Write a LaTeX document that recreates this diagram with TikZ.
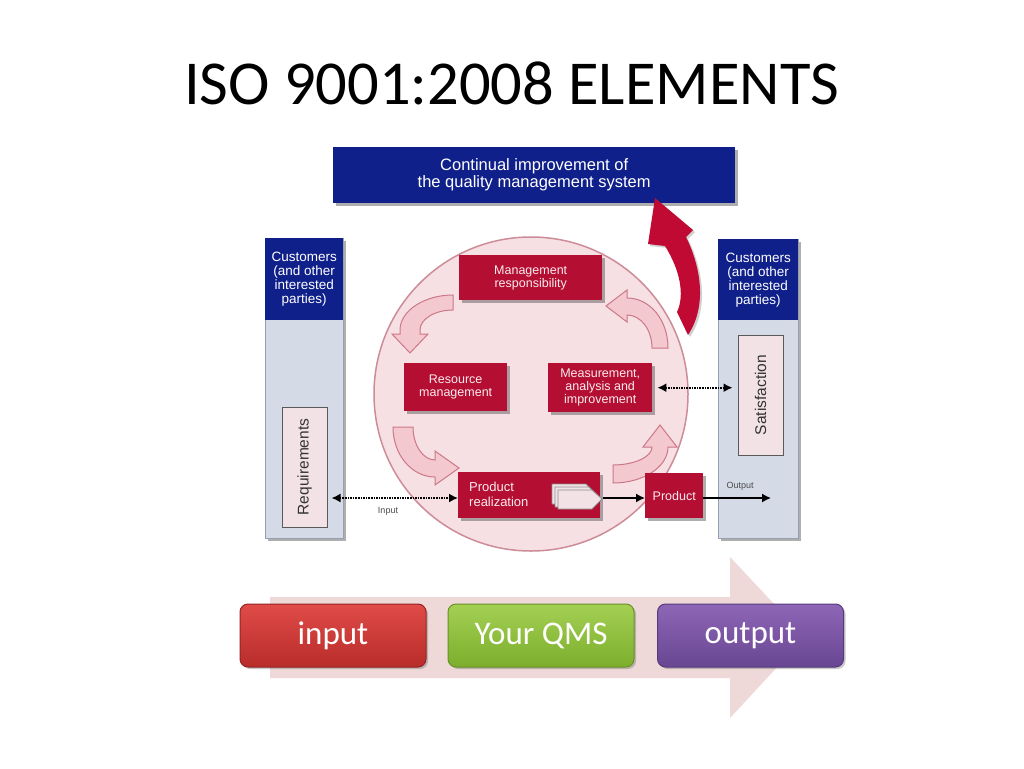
\documentclass[tikz,border=0pt]{standalone}
\usepackage{fontspec}
\setmainfont{Carlito}
\newfontfamily\arial{Liberation Sans}
\usetikzlibrary{arrows.meta,shadows}
\definecolor{qblue}{RGB}{16,32,138}
\definecolor{qred}{RGB}{180,14,50}
\definecolor{colgray}{RGB}{212,219,230}
\definecolor{colborder}{RGB}{150,160,176}
\definecolor{cpink}{RGB}{246,224,228}
\definecolor{cborder}{RGB}{205,140,152}
\definecolor{apink}{RGB}{243,200,206}
\definecolor{aborder}{RGB}{205,120,134}
\definecolor{bigred}{RGB}{192,10,52}
\definecolor{bandpink}{RGB}{236,210,210}
\definecolor{lightbox}{RGB}{242,226,229}
\definecolor{boxtext}{RGB}{250,236,238}
\definecolor{inTop}{RGB}{224,76,72}
\definecolor{inBot}{RGB}{184,44,42}
\definecolor{inBrd}{RGB}{150,36,34}
\definecolor{qmsTop}{RGB}{164,208,84}
\definecolor{qmsBot}{RGB}{124,174,44}
\definecolor{qmsBrd}{RGB}{104,146,38}
\definecolor{outTop}{RGB}{142,102,182}
\definecolor{outBot}{RGB}{104,70,146}
\definecolor{outBrd}{RGB}{86,58,124}
\tikzset{
  shad/.style={drop shadow={shadow xshift=3pt,shadow yshift=-3pt,opacity=.45,fill=black!70}},
  bluebox/.style={fill=qblue, text=white, align=center, inner sep=0pt, shad},
  redbox/.style={fill=qred, text=boxtext, align=center, inner sep=0pt,
    font=\arial\fontsize{12.5}{13}\selectfont, shad},
  column/.style={fill=colgray, draw=colborder, line width=.8pt, inner sep=0pt, shad},
  colhead/.style={fill=qblue, text=white, align=center, inner sep=0pt,
    font=\arial\fontsize{13.5}{14}\selectfont},
  vbox/.style={fill=lightbox, draw=black!65, line width=1pt, rotate=90, inner sep=0pt,
    font=\arial\fontsize{15.5}{17}\selectfont, text=black!80},
  pinkarrow/.style={fill=apink, draw=aborder, line width=1pt},
  dotarrow/.style={densely dotted, line width=1.6pt, {Latex[length=9pt,width=9pt]}-{Latex[length=9pt,width=9pt]}},
  solidarrow/.style={line width=1.4pt, -{Latex[length=9pt,width=9pt]}},
  smalllabel/.style={font=\arial\fontsize{9}{10}\selectfont, text=black!70},
  qbox/.style={rounded corners=8pt, minimum width=186, minimum height=63, text=white,
    font=\fontsize{33}{36}\selectfont, line width=1pt,
    drop shadow={shadow xshift=2pt,shadow yshift=-2pt,opacity=.35,fill=black!60}},
  iconpage/.style={fill=lightbox, draw=black!45, line width=.8pt},
}
\begin{document}
\begin{tikzpicture}[x=1pt,y=-1pt]
\useasboundingbox (0,0) rectangle (1024,768);
\fill[white] (0,0) rectangle (1024,768);

% title
\node[anchor=base, font=\fontsize{62.5}{70}\selectfont, inner sep=0pt] (title) at (511.5,104) {ISO 9001:2008 ELEMENTS};

% continual improvement box
\node[bluebox, anchor=north west, minimum width=402, minimum height=56,
  font=\arial\fontsize{16.5}{17}\selectfont] (ci) at (333,147)
  {Continual improvement of\\the quality management system};

% columns
\node[column, anchor=north west, minimum width=78, minimum height=300] (lcol) at (265,238) {};
\node[colhead, anchor=north west, minimum width=78, minimum height=82] (lcust) at (265,238)
  {Customers\\(and other\\interested\\parties)};
\node[column, anchor=north west, minimum width=80, minimum height=299] (rcol) at (718,239) {};
\node[colhead, anchor=north west, minimum width=80, minimum height=81] (rcust) at (718,239)
  {Customers\\(and other\\interested\\parties)};
\node[vbox, minimum width=120, minimum height=45] (req) at (304.5,467) {Requirements};
\node[vbox, minimum width=120, minimum height=45] (sat) at (760.5,395) {Satisfaction};

% big red arrow
\fill[bigred, drop shadow={shadow xshift=2pt,shadow yshift=-2pt,opacity=.3,fill=black!60}]
  (655,198) -- (693,230) -- (686,237) .. controls (700,265) and (708,305) .. (688,335)
  -- (677,312) .. controls (685,295) and (680,270) .. (665,246) -- (648,244) -- cycle;

% circle
\node[circle, fill=cpink, draw=cborder, line width=1.5pt, minimum size=314, inner sep=0pt] (circ) at (531,394) {};

% curved pink arrows
\draw[pinkarrow] (453,295) .. controls (424,295) and (400,311) .. (400,330) -- (400,334)
  -- (392,334) -- (410,353) -- (428,334) -- (420,334) -- (420,330)
  .. controls (420,319) and (435,310) .. (453,310) -- cycle;
\draw[pinkarrow] (393,427) .. controls (393,455) and (412,477) .. (435,477) -- (435,485)
  -- (459,468) -- (435,451) -- (435,460)
  .. controls (423,460) and (413,445) .. (413,427) -- cycle;
\draw[pinkarrow] (613,483) .. controls (643,483) and (668,467) .. (668,447) -- (677,447)
  -- (660,425) -- (643,447) -- (652,447)
  .. controls (652,457) and (634,465) .. (613,465) -- cycle;
\draw[pinkarrow] (668,348) .. controls (668,320) and (650,298) .. (627,298) -- (627,290)
  -- (606,306) -- (627,322) -- (627,315)
  .. controls (641,315) and (652,330) .. (652,348) -- cycle;

% red boxes
\node[redbox, anchor=north west, minimum width=143, minimum height=45] (mr) at (459,255)
  {Management\\responsibility};
\node[redbox, anchor=north west, minimum width=103, minimum height=48] (rm) at (404,363)
  {Resource\\management};
\node[redbox, anchor=north west, minimum width=104, minimum height=49] (ma) at (548,363)
  {Measurement,\\analysis and\\improvement};
\node[redbox, anchor=north west, minimum width=142, minimum height=46] (pr) at (458,472) {};
\node[anchor=west, align=left, text=boxtext, inner sep=0pt,
  font=\arial\fontsize{13}{15}\selectfont] (prtext) at (469,494) {Product\\realization};
\node[redbox, anchor=north west, minimum width=58, minimum height=45] (prod) at (645,473) {Product};

% icon in product realization
\draw[iconpage] (552,484) -- (586,484) -- (596,494) -- (586,504) -- (552,504) -- cycle;
\draw[iconpage] (555,487) -- (589,487) -- (599,497) -- (589,507) -- (555,507) -- cycle;
\draw[iconpage] (558,490) -- (592,490) -- (602,499) -- (592,509) -- (558,509) -- cycle;
\coordinate (icon) at (603,498);
\coordinate (outend) at (771,498);

% connectors
\draw[dotarrow] ([xshift=4pt]req.south |- 0,498) -- (pr.west |- 0,498);
\node[smalllabel] (inlabel) at (388,511) {Input};
\draw[dotarrow] ([xshift=5pt]ma.east) -- ([xshift=-5pt]sat.north |- ma.east);
\draw[solidarrow] (icon) -- (prod.west |- icon);
\draw[solidarrow] (prod.east |- icon) -- (outend);
\node[smalllabel] (outlabel) at (740,486) {Output};

% bottom band arrow
\fill[bandpink, opacity=.85] (270,597) -- (730,597) -- (730,557) -- (805,637) -- (730,718)
  -- (730,678) -- (270,678) -- cycle;

% input / QMS / output boxes
\node[qbox, top color=inTop, bottom color=inBot, draw=inBrd] (in) at (333,635.5) {input};
\node[qbox, top color=qmsTop, bottom color=qmsBot, draw=qmsBrd] (qms) at (541,635.5) {Your QMS};
\node[qbox, top color=outTop, bottom color=outBot, draw=outBrd] (out) at (750.5,635.5) {output};
\end{tikzpicture}
\end{document}
